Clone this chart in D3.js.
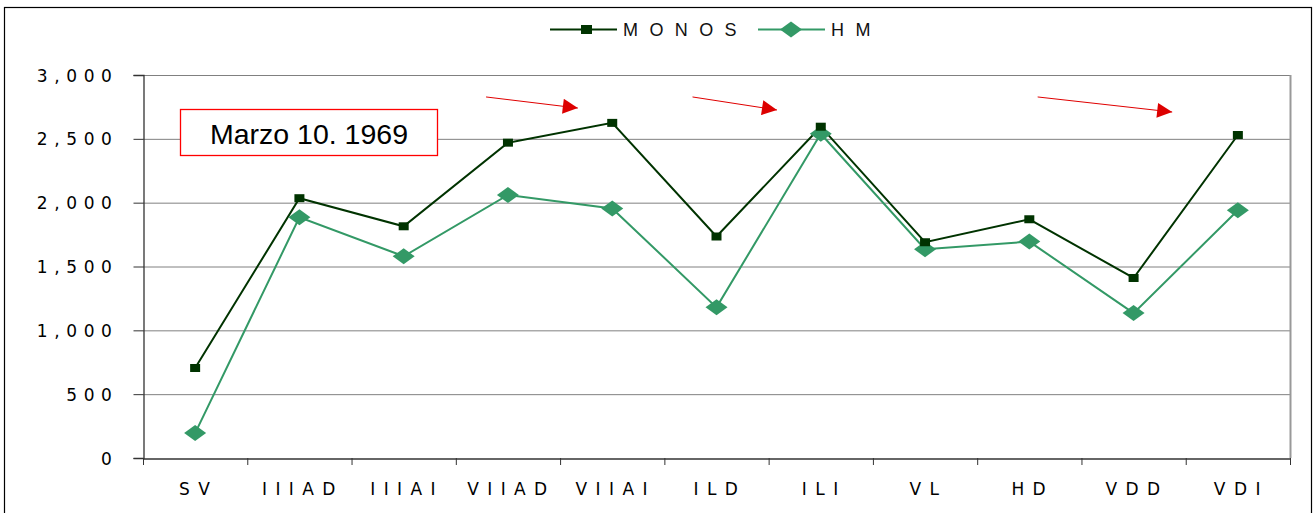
<!DOCTYPE html>
<html><head><meta charset="utf-8">
<script src="https://cdn.jsdelivr.net/npm/d3@7"></script>
<style>body{margin:0;background:#fff}</style>
</head><body>
<svg id="c" width="1315" height="513"></svg>
<script>
const categories = ["S V","I I I A D","I I I A I","V I I A D","V I I A I","I L D","I L I","V L","H D","V D D","V D I"];
const monos = [705, 2035, 1815, 2470, 2625, 1735, 2595, 1690, 1870, 1410, 2530];
const hm = [195, 1885, 1580, 2060, 1955, 1180, 2540, 1635, 1695, 1135, 1940];
const yTicks = [0, 500, 1000, 1500, 2000, 2500, 3000];
const yTickLabels = ["0","5 0 0","1 , 0 0 0","1 , 5 0 0","2 , 0 0 0","2 , 5 0 0","3 , 0 0 0"];
const seriesNames = ["M O N O S", "H M"];
const annotation = "Marzo 10. 1969";
// arrows: start/end as fractional category position and value
const arrows = [
  {x1: 3.29, v1: 2828, x2: 4.17, v2: 2741},
  {x1: 5.27, v1: 2828, x2: 6.08, v2: 2726},
  {x1: 8.58, v1: 2828, x2: 9.87, v2: 2710}
];

const svg = d3.select("#c");
const L = 143, R = 1290, T = 75, B = 458;
const x = d3.scaleBand().domain(d3.range(categories.length)).range([L, R]);
const y = d3.scaleLinear().domain([0, 3000]).range([B, T]);
const xc = i => x(i) + x.bandwidth()/2;
const xf = f => L + f * x.step();

// outer frame
svg.append("rect").attr("x",4.5).attr("y",7.5).attr("width",1307).attr("height",520)
  .attr("fill","none").attr("stroke","#000").attr("stroke-width",1.2);

// gridlines
svg.append("g").selectAll("line").data(yTicks.filter(d=>d>0)).join("line")
  .attr("x1",L).attr("x2",R).attr("y1",d=>y(d)+0.5).attr("y2",d=>y(d)+0.5)
  .attr("stroke","#808080").attr("stroke-width",1);
// right border of plot
svg.append("line").attr("x1",R+0.5).attr("x2",R+0.5).attr("y1",T).attr("y2",B)
  .attr("stroke","#999").attr("stroke-width",2);

// y axis
const ya = svg.append("g").attr("transform",`translate(${L+0.5},0)`)
  .call(d3.axisLeft(y).tickValues(yTicks).tickSize(10).tickFormat((d,i)=>yTickLabels[i]));
ya.select(".domain").attr("stroke","#333").attr("stroke-width",1.3);
ya.selectAll(".tick line").attr("stroke","#333");
ya.selectAll("text").attr("font-family","DejaVu Sans").attr("font-size",17).attr("fill","#000")
  .attr("letter-spacing","0.6px").attr("x",-31).attr("dy","0.36em");

// x axis
const xa = svg.append("g").attr("transform",`translate(0,${B+0.5})`)
  .call(d3.axisBottom(x).tickSize(0).tickFormat((d)=>categories[d]));
xa.select(".domain").attr("stroke","#333").attr("stroke-width",1.3);
xa.selectAll("text").attr("font-family","DejaVu Sans").attr("font-size",17).attr("fill","#000")
  .attr("letter-spacing","1.5px").attr("dy","0").attr("y",36);
svg.append("g").selectAll("line").data(d3.range(categories.length+1)).join("line")
  .attr("x1",d=>xf(d)+0.5).attr("x2",d=>xf(d)+0.5).attr("y1",B).attr("y2",B+7)
  .attr("stroke","#333");

// lines
const line = d3.line().x((d,i)=>xc(i)).y(d=>y(d));
const cM = "#003300", cH = "#339966";
svg.append("path").datum(monos).attr("d",line).attr("fill","none").attr("stroke",cM).attr("stroke-width",2);
svg.append("path").datum(hm).attr("d",line).attr("fill","none").attr("stroke",cH).attr("stroke-width",2);
const diamond = "M0,-8L11,0L0,8L-11,0Z";
svg.append("g").selectAll("path").data(hm).join("path")
  .attr("transform",(d,i)=>`translate(${xc(i)},${y(d)})`).attr("d",diamond).attr("fill",cH);
svg.append("g").selectAll("rect").data(monos).join("rect")
  .attr("x",(d,i)=>xc(i)-5).attr("y",d=>y(d)-4).attr("width",10).attr("height",8).attr("fill",cM);

// legend
const lg = svg.append("g");
lg.append("line").attr("x1",550).attr("x2",617).attr("y1",29.5).attr("y2",29.5).attr("stroke",cM).attr("stroke-width",2);
lg.append("rect").attr("x",581).attr("y",25).attr("width",11).attr("height",9).attr("fill",cM);
lg.append("text").attr("x",623).attr("y",36).text(seriesNames[0])
  .attr("font-family","Liberation Sans").attr("font-size",18).attr("fill","#111").attr("letter-spacing","3.2px");
lg.append("line").attr("x1",758).attr("x2",825).attr("y1",29.5).attr("y2",29.5).attr("stroke",cH).attr("stroke-width",2);
lg.append("path").attr("transform","translate(791,29.5)").attr("d",diamond).attr("fill",cH);
lg.append("text").attr("x",831).attr("y",36).text(seriesNames[1])
  .attr("font-family","Liberation Sans").attr("font-size",18).attr("fill","#111").attr("letter-spacing","3.2px");

// annotation box
svg.append("rect").attr("x",180.5).attr("y",109.5).attr("width",257).attr("height",46)
  .attr("fill","#fff").attr("stroke","#ff0000").attr("stroke-width",1.3);
svg.append("text").attr("x",309).attr("y",144).attr("text-anchor","middle").text(annotation)
  .attr("font-family","Liberation Sans").attr("font-size",28.5).attr("fill","#000");

// arrows
const defs = svg.append("defs");
defs.append("marker").attr("id","ah").attr("viewBox","0 0 10 10").attr("refX",10).attr("refY",5)
  .attr("markerWidth",24).attr("markerHeight",15).attr("markerUnits","userSpaceOnUse").attr("orient","auto")
  .append("path").attr("d","M0,0L10,5L0,10Z").attr("fill","#dd0000");
svg.append("g").selectAll("line").data(arrows).join("line")
  .attr("x1",d=>xf(d.x1)).attr("y1",d=>y(d.v1)).attr("x2",d=>xf(d.x2)).attr("y2",d=>y(d.v2))
  .attr("stroke","#e00000").attr("stroke-width",1).attr("marker-end","url(#ah)");
</script>
</body></html>
